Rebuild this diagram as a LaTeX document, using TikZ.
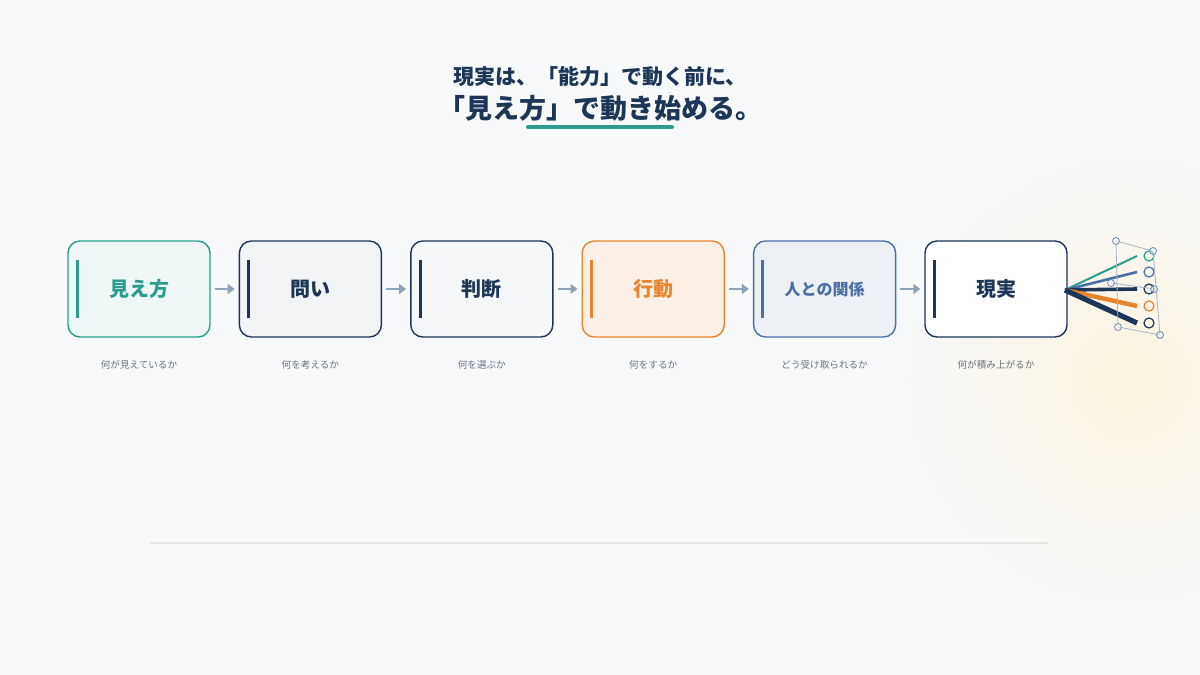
\documentclass[tikz,border=0pt]{standalone}
\usepackage{fontspec}
\setmainfont{Noto Sans CJK JP}
\usetikzlibrary{positioning,arrows.meta}
\definecolor{bg}{HTML}{F8F9FB}
\definecolor{teal}{HTML}{2A9D8F}
\definecolor{navy}{HTML}{1D3557}
\definecolor{blu}{HTML}{4A6FA5}
\definecolor{orng}{HTML}{E8842C}
\definecolor{arr}{HTML}{8FA3B8}
\definecolor{cap}{HTML}{6B7280}
\definecolor{glow}{HTML}{FBF3E0}
\tikzset{
stagebox/.style={draw,line width=0.7pt,rounded corners=6pt,minimum width=71pt,minimum height=48pt,font=\bfseries\fontsize{10}{12}\selectfont},
capt/.style={font=\fontsize{4.8}{6}\selectfont,text=cap},
flow/.style={arr,line width=1.3pt,-{Triangle[length=3.5pt,width=5pt]}},
}
\begin{document}
\begin{tikzpicture}[x=0.5pt,y=-0.5pt]
\useasboundingbox (0,0) rectangle (1200,675);
\fill[bg] (0,0) rectangle (1200,675);
\begin{scope}
\clip (0,0) rectangle (1200,675);
\shade[inner color=glow,outer color=bg] (1130,380) circle (240);
\end{scope}

% title
\node[font=\bfseries\fontsize{10.5}{12}\selectfont,text=navy] (t1) at (600,77) {現実は、「能力」で動く前に、};
\node[font=\bfseries\fontsize{13.5}{15}\selectfont,text=navy] (t2) at (600,108) {「見え方」で動き始める。};
\draw[teal,line width=2pt,line cap=round] (528,127) -- (672,127);

% steps
\begin{scope}[node distance=14pt]
\node[stagebox,color=teal,fill=teal!8,text=teal] (s1) at (139,289) {見え方};
\node[stagebox,color=navy,fill=navy!6,text=navy,right=of s1] (s2) {問い};
\node[stagebox,color=navy,fill=navy!4,text=navy,right=of s2] (s3) {判断};
\node[stagebox,color=orng,fill=orng!12,text=orng,right=of s3] (s4) {行動};
\node[stagebox,color=blu,fill=blu!10,text=blu,font=\bfseries\fontsize{8}{10}\selectfont,right=of s4] (s5) {人との関係};
\node[stagebox,color=navy,fill=white,text=navy,right=of s5] (s6) {現実};
\end{scope}

\foreach \s/\c in {s1/teal,s2/navy,s3/navy,s4/orng,s5/blu,s6/navy}
  \draw[\c,line width=1.5pt] ([xshift=5pt,yshift=-10pt]\s.north west) -- ([xshift=5pt,yshift=10pt]\s.south west);

\foreach \a/\b in {s1/s2,s2/s3,s3/s4,s4/s5,s5/s6}
  \draw[flow] ([xshift=2pt]\a.east) -- ([xshift=-2pt]\b.west);

\node[capt,below=8pt of s1] (c1) {何が見えているか};
\node[capt,below=8pt of s2] (c2) {何を考えるか};
\node[capt,below=8pt of s3] (c3) {何を選ぶか};
\node[capt,below=8pt of s4] (c4) {何をするか};
\node[capt,below=8pt of s5] (c5) {どう受け取られるか};
\node[capt,below=8pt of s6] (c6) {何が積み上がるか};

% fan
\coordinate (o) at (1065,290);
\coordinate (f1) at (1137,256);
\coordinate (f2) at (1137,272);
\coordinate (f3) at (1137,289);
\coordinate (f4) at (1137,306);
\coordinate (f5) at (1137,323);
\draw[teal,line width=1pt] (o) -- (f1);
\draw[blu,line width=1.3pt] (o) -- (f2);
\draw[navy,line width=1.8pt] (o) -- (f3);
\draw[orng,line width=2.2pt] (o) -- (f4);
\draw[navy,line width=2.6pt] (o) -- (f5);
\foreach \y/\c in {256/teal,272/blu,289/navy,306/orng,323/navy}
  \draw[\c,line width=0.6pt] (1149,\y) circle (5);
\draw[arr!80,line width=0.4pt] (1116,241) -- (1153,251) -- (1160,335) -- (1118,327) -- cycle;
\draw[arr!80,line width=0.4pt] (1111,283) -- (1154,289);
\foreach \p in {(1116,241),(1153,251),(1160,335),(1118,327),(1111,283),(1154,289)}
  \draw[blu!80,line width=0.4pt,fill=white,fill opacity=0.4] \p circle (3.5);

\draw[black!10,line width=0.6pt] (150,543) -- (1048,543);
\end{tikzpicture}
\end{document}
